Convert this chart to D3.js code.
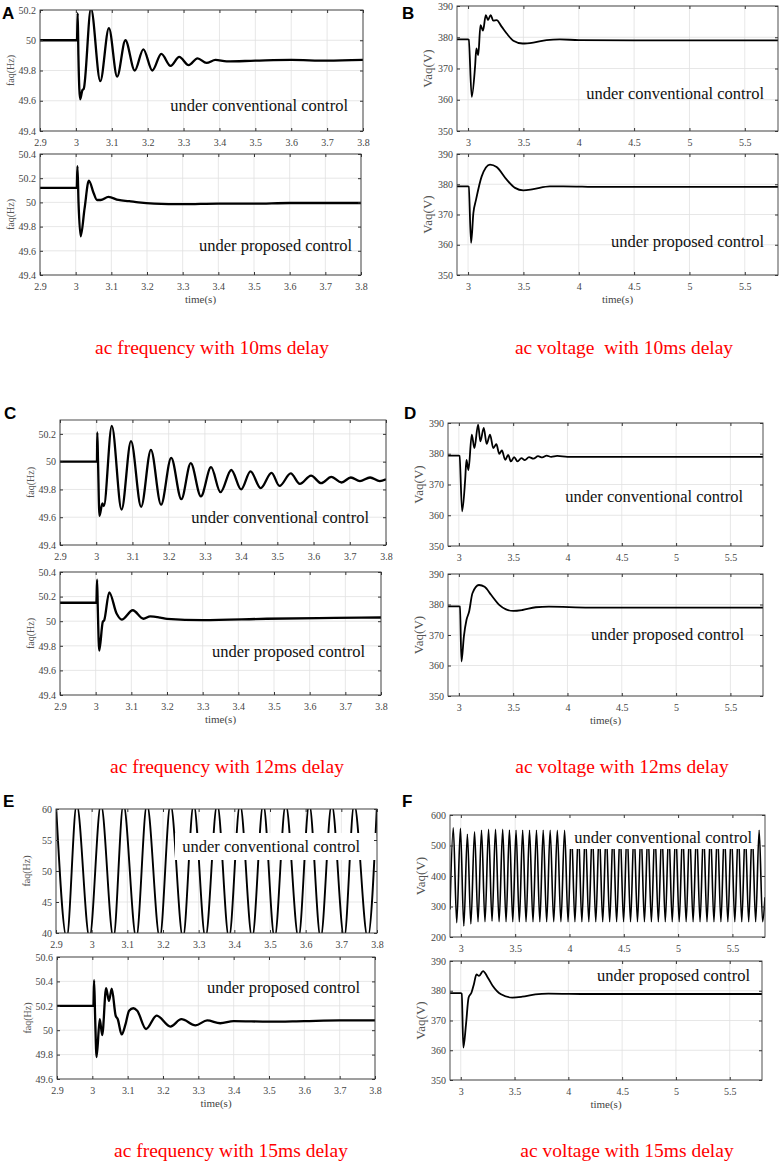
<!DOCTYPE html>
<html><head><meta charset="utf-8">
<script src="https://cdn.jsdelivr.net/npm/d3@7"></script>
<style>body{margin:0;background:#fff}</style>
</head><body>
<svg id="c" width="782" height="1164"></svg>
<script>
// ---------- tick labels ----------
const freqTimeTicks = [2.9, 3.0, 3.1, 3.2, 3.3, 3.4, 3.5, 3.6, 3.7, 3.8];
const voltTimeTicks = [3, 3.5, 4, 4.5, 5, 5.5];
const freqTicksA = [49.4, 49.6, 49.8, 50.0, 50.2];
const freqTicksB = [49.4, 49.6, 49.8, 50.0, 50.2, 50.4];
const freqTicksE1 = [40, 45, 50, 55, 60];
const freqTicksE2 = [49.6, 49.8, 50.0, 50.2, 50.4, 50.6];
const voltTicks = [350, 360, 370, 380, 390];
const voltTicksF = [200, 300, 400, 500, 600];

// ---------- series (time s, value) ----------
const freqConv10 = [[2.9,50.0],[3.0,50.0],[3.003,50.0],[3.005,50.18],[3.007,49.9],[3.012,49.61],[3.018,49.67],[3.022,49.68],[3.042,50.21],[3.068,49.73],[3.092,50.08],[3.115,49.76],[3.138,50.0],[3.164,49.80],[3.188,49.94],[3.213,49.80],[3.238,49.91],[3.264,49.83],[3.288,49.89],[3.314,49.835],[3.339,49.88],[3.364,49.85],[3.389,49.87],[3.42,49.86],[3.5,49.865],[3.6,49.87],[3.7,49.865],[3.8,49.87]];
const freqProp10 = [[2.9,50.12],[3.0,50.12],[3.003,50.12],[3.005,50.30],[3.008,50.0],[3.014,49.72],[3.025,49.95],[3.037,50.18],[3.05,50.08],[3.06,50.02],[3.07,50.02],[3.092,50.045],[3.12,50.02],[3.15,50.01],[3.176,50.0],[3.22,49.99],[3.3,49.985],[3.4,49.99],[3.5,49.99],[3.6,49.995],[3.7,49.995],[3.8,49.995]];
const voltConv10 = [[2.9,379.3],[3.0,379.3],[3.006,379.2],[3.033,360.9],[3.063,370.5],[3.075,376.4],[3.092,374.3],[3.112,383.9],[3.135,382.1],[3.16,387.1],[3.18,385.5],[3.204,387.1],[3.228,385.3],[3.258,385.5],[3.303,383.4],[3.349,381.2],[3.409,378.9],[3.493,378.0],[3.589,378.3],[3.709,379.1],[3.829,379.3],[4.0,379.1],[4.5,379.0],[5.0,379.0],[5.5,379.0],[5.8,379.0]];
const voltProp10 = [[2.9,379.3],[3.0,379.3],[3.006,379.2],[3.027,360.6],[3.048,370.5],[3.072,374.9],[3.123,382.6],[3.198,386.5],[3.258,385.7],[3.349,381.5],[3.424,378.8],[3.499,378.0],[3.589,378.4],[3.739,379.3],[3.86,379.3],[4.2,379.1],[5.8,379.1]];
const freqConv12 = [[2.9,50.0],[3.0,50.0],[3.002,50.0],[3.003,50.21],[3.005,50.0],[3.009,49.61],[3.017,49.70],[3.021,49.68],[3.043,50.257],[3.07,49.655],[3.096,50.148],[3.124,49.675],[3.151,50.085],[3.179,49.69],[3.207,50.027],[3.235,49.73],[3.261,49.99],[3.289,49.75],[3.317,49.96],[3.343,49.78],[3.373,49.94],[3.40,49.80],[3.426,49.93],[3.454,49.81],[3.484,49.92],[3.506,49.825],[3.537,49.915],[3.562,49.84],[3.593,49.90],[3.621,49.845],[3.649,49.89],[3.677,49.85],[3.703,49.886],[3.728,49.86],[3.756,49.886],[3.783,49.86],[3.8,49.874]];
const freqProp12 = [[2.9,50.15],[3.0,50.15],[3.002,50.15],[3.004,50.338],[3.006,50.1],[3.01,49.76],[3.02,49.995],[3.024,50.008],[3.038,50.235],[3.059,50.06],[3.073,50.013],[3.104,50.089],[3.134,50.02],[3.153,50.04],[3.181,50.03],[3.2,50.019],[3.3,50.008],[3.48,50.02],[3.67,50.027],[3.8,50.03]];
const voltConv12 = [[2.9,379.4],[3.0,379.4],[3.006,379.3],[3.03,361.3],[3.058,371.5],[3.07,378.0],[3.088,374.7],[3.119,386.2],[3.143,381.8],[3.177,389.5],[3.198,384],[3.229,388.4],[3.256,383.2],[3.287,386.2],[3.317,381.8],[3.345,383.1],[3.372,380],[3.396,381.1],[3.427,378.0],[3.454,379.6],[3.479,377.5],[3.509,378.9],[3.54,377.5],[3.576,378.6],[3.607,377.9],[3.646,378.9],[3.686,378.4],[3.729,379.2],[3.768,378.8],[3.808,379.4],[3.85,379.0],[3.905,379.3],[4.0,379.0],[5.8,379.0]];
const voltProp12 = [[2.9,379.4],[3.0,379.4],[3.01,379.3],[3.024,361.3],[3.046,369.5],[3.07,374.9],[3.094,377.6],[3.125,383.7],[3.185,386.4],[3.237,385.8],[3.298,383.1],[3.374,379.8],[3.434,378.4],[3.501,377.9],[3.586,378.2],[3.708,379.1],[3.829,379.3],[4.2,379.0],[5.8,379.0]];
const freqConv15 = [[2.9,60.8],[2.930,39.2],[2.958,60.8],[2.994,39.2],[3.026,60.8],[3.061,39.2],[3.089,60.8],[3.125,39.2],[3.155,60.8],[3.191,39.2],[3.221,60.8],[3.256,39.2],[3.286,60.8],[3.319,39.2],[3.352,60.8],[3.385,39.2],[3.416,60.8],[3.450,39.2],[3.481,60.8],[3.513,39.2],[3.544,60.8],[3.580,39.2],[3.610,60.8],[3.642,39.2],[3.673,60.8],[3.708,39.2],[3.736,60.8],[3.774,39.2],[3.8,60.8]];
const freqProp15 = [[2.9,50.2],[3.0,50.2],[3.003,50.2],[3.005,50.41],[3.008,50.1],[3.012,49.78],[3.021,50.09],[3.028,49.96],[3.039,50.345],[3.047,50.24],[3.055,50.34],[3.066,50.12],[3.072,50.09],[3.083,49.965],[3.094,50.05],[3.104,50.16],[3.116,50.18],[3.127,50.16],[3.152,50.01],[3.182,50.12],[3.221,50.03],[3.252,50.09],[3.292,50.04],[3.325,50.08],[3.362,50.057],[3.4,50.074],[3.5,50.07],[3.6,50.075],[3.7,50.08],[3.8,50.08]];
const voltConv15 = [[2.9,290],[2.93,558],[2.962,247],[2.996,556],[3.027,236],[3.06,537],[3.092,243],[3.126,545],[3.158,250],[3.19,550],[3.222,250],[3.255,553],[3.287,252],[3.319,553],[3.352,250],[3.385,553],[3.416,250],[3.447,551],[3.478,250],[3.508,550],[3.538,250],[3.569,550],[3.6,250],[3.632,550],[3.664,250],[3.696,550],[3.727,250],[3.758,550],[3.79,250],[3.822,550],[3.855,250],[3.888,550],[3.921,250],[3.955,550],[3.987,250],[4.018,550],[4.05,250],[4.082,550],[4.114,250],[4.146,550],[4.178,250],[4.21,550],[4.242,250],[4.274,550],[4.306,250],[4.338,550],[4.37,250],[4.402,550],[4.434,250],[4.466,550],[4.498,250],[4.53,550],[4.562,250],[4.594,550],[4.626,250],[4.658,550],[4.69,250],[4.722,550],[4.754,250],[4.786,550],[4.818,250],[4.85,550],[4.882,250],[4.914,550],[4.946,250],[4.978,550],[5.01,250],[5.042,550],[5.074,250],[5.106,550],[5.138,250],[5.17,550],[5.202,250],[5.234,550],[5.266,250],[5.298,550],[5.33,250],[5.362,550],[5.394,250],[5.426,550],[5.458,250],[5.49,550],[5.522,250],[5.554,550],[5.586,250],[5.618,550],[5.65,250],[5.682,550],[5.714,250],[5.746,550],[5.778,250],[5.8,330]];
const voltProp15 = [[2.9,379.2],[3.0,379.2],[3.009,379.0],[3.024,360.9],[3.049,368.8],[3.073,377.7],[3.1,379.4],[3.122,382.2],[3.146,385.5],[3.17,385],[3.207,386.6],[3.252,384.4],[3.298,381.6],[3.374,378.8],[3.48,377.7],[3.571,378.0],[3.693,378.8],[3.814,379.05],[4.2,378.9],[5.8,378.9]];

// ---------- texts ----------
const conv = 'under conventional control';
const prop = 'under proposed control';
const freqLabel = 'faq(Hz)';
const voltLabel = 'Vaq(V)';
const captions = ['ac frequency with 10ms delay','ac voltage  with 10ms delay','ac frequency with 12ms delay','ac voltage with 12ms delay','ac frequency with 15ms delay','ac voltage with 15ms delay'];
const letters = ['A','B','C','D','E','F'];

// ---------- layout ----------
const FD = [2.9, 3.8], VD = [2.9, 5.8];
const panels = [
 {x0:40,x1:363,y0:10,y1:131, xd:FD,xt:freqTimeTicks, yd:[49.4,50.2],yt:freqTicksA, yl:freqLabel, data:freqConv10, txt:conv, tx:348, ty:111, time:false, sw:2.3, f:true},
 {x0:40,x1:361,y0:154,y1:275, xd:FD,xt:freqTimeTicks, yd:[49.4,50.4],yt:freqTicksB, yl:freqLabel, data:freqProp10, txt:prop, tx:352, ty:251, time:true, sw:2.3, f:true},
 {x0:457,x1:778,y0:6,y1:131, xd:VD,xt:voltTimeTicks, yd:[350,390],yt:voltTicks, yl:voltLabel, data:voltConv10, txt:conv, tx:764, ty:99, time:false, sw:1.8},
 {x0:457,x1:778,y0:154,y1:275, xd:VD,xt:voltTimeTicks, yd:[350,390],yt:voltTicks, yl:voltLabel, data:voltProp10, txt:prop, tx:764, ty:247, time:true, sw:1.8},
 {x0:60,x1:386,y0:420,y1:545, xd:FD,xt:freqTimeTicks, yd:[49.4,50.3],yt:freqTicksA, yl:freqLabel, data:freqConv12, txt:conv, tx:369, ty:523, time:false, sw:2.3, f:true},
 {x0:60,x1:381,y0:572,y1:695, xd:FD,xt:freqTimeTicks, yd:[49.4,50.4],yt:freqTicksB, yl:freqLabel, data:freqProp12, txt:prop, tx:365, ty:657, time:true, sw:2.3, f:true},
 {x0:448,x1:763,y0:423,y1:546, xd:VD,xt:voltTimeTicks, yd:[350,390],yt:voltTicks, yl:voltLabel, data:voltConv12, txt:conv, tx:743, ty:502, time:false, sw:1.8},
 {x0:448,x1:763,y0:574,y1:696, xd:VD,xt:voltTimeTicks, yd:[350,390],yt:voltTicks, yl:voltLabel, data:voltProp12, txt:prop, tx:744, ty:640, time:true, sw:1.8},
 {x0:56,x1:377,y0:809,y1:933, xd:FD,xt:freqTimeTicks, yd:[40,60],yt:freqTicksE1, yl:freqLabel, data:freqConv15, txt:conv, tx:360, ty:852, time:false, sw:1.9, f:true, box:[175,833,376.5,860]},
 {x0:57,x1:375,y0:957,y1:1079, xd:FD,xt:freqTimeTicks, yd:[49.6,50.6],yt:freqTicksE2, yl:freqLabel, data:freqProp15, txt:prop, tx:360, ty:993, time:true, sw:2.3, f:true},
 {x0:450,x1:765,y0:815,y1:937, xd:VD,xt:voltTimeTicks, yd:[200,600],yt:voltTicksF, yl:voltLabel, data:voltConv15, txt:conv, tx:752, ty:843, time:false, sw:1.6, box:[568,815.5,756,849]},
 {x0:450,x1:762,y0:961,y1:1080, xd:VD,xt:voltTimeTicks, yd:[350,390],yt:voltTicks, yl:voltLabel, data:voltProp15, txt:prop, tx:750, ty:981, time:true, sw:1.8}
];
const captionPos = [[212,354],[624,354],[227,773],[622,773],[231,1157],[627,1157]];
const letterPos = [[2,19],[402,19],[4,419],[404,419],[3,807],[402,807]];

const svg = d3.select('#c');
const SERIF = "'Liberation Serif','Times New Roman',serif";
const tickFmt = d => String(+d.toFixed(2));

panels.forEach((p, i) => {
  const x = d3.scaleLinear().domain(p.xd).range([p.x0, p.x1]);
  const y = d3.scaleLinear().domain(p.yd).range([p.y1, p.y0]);
  const g = svg.append('g');
  g.selectAll('line.gx').data(p.xt).join('line').attr('class','gx')
    .attr('x1', d => x(d)).attr('x2', d => x(d)).attr('y1', p.y0).attr('y2', p.y1)
    .attr('stroke', '#e1e1e1').attr('stroke-width', 0.8);
  g.selectAll('line.gy').data(p.yt).join('line').attr('class','gy')
    .attr('y1', d => y(d)).attr('y2', d => y(d)).attr('x1', p.x0).attr('x2', p.x1)
    .attr('stroke', '#e1e1e1').attr('stroke-width', 0.8);
  const cid = 'clip' + i;
  svg.append('clipPath').attr('id', cid).append('rect')
    .attr('x', p.x0).attr('y', p.y0).attr('width', p.x1 - p.x0).attr('height', p.y1 - p.y0);
  const line = d3.line().x(d => x(d[0])).y(d => y(d[1])).curve(d3.curveMonotoneX);
  g.append('path').datum(p.data).attr('d', line).attr('fill', 'none')
    .attr('stroke', '#000').attr('stroke-width', p.sw).attr('stroke-linejoin', 'round')
    .attr('clip-path', `url(#${cid})`);
  if (p.box) {
    g.append('rect').attr('x', p.box[0]).attr('y', p.box[1])
      .attr('width', p.box[2] - p.box[0]).attr('height', p.box[3] - p.box[1]).attr('fill', '#fff');
  }
  const styleAxis = (ax) => {
    ax.select('.domain').remove();
    ax.attr('color', '#333');
    ax.selectAll('text').attr('font-family', SERIF).attr('font-size', 10).attr('fill', '#444');
  };
  const bx = g.append('g').attr('transform', `translate(0,${p.y1})`)
    .call(d3.axisBottom(x).tickValues(p.xt).tickFormat(tickFmt).tickSize(-3).tickPadding(7.5));
  styleAxis(bx);
  const tx = g.append('g').attr('transform', `translate(0,${p.y0})`)
    .call(d3.axisTop(x).tickValues(p.xt).tickFormat('').tickSize(-3));
  styleAxis(tx);
  const ly = g.append('g').attr('transform', `translate(${p.x0},0)`)
    .call(d3.axisLeft(y).tickValues(p.yt).tickFormat(tickFmt).tickSize(-3).tickPadding(4));
  styleAxis(ly);
  const ry = g.append('g').attr('transform', `translate(${p.x1},0)`)
    .call(d3.axisRight(y).tickValues(p.yt).tickFormat('').tickSize(-3));
  styleAxis(ry);
  g.append('rect').attr('x', p.x0).attr('y', p.y0).attr('width', p.x1 - p.x0).attr('height', p.y1 - p.y0)
    .attr('fill', 'none').attr('stroke', '#3a3a3a').attr('stroke-width', 0.9);
  g.append('text').attr('transform', `translate(${p.x0 - 30},${(p.y0 + p.y1) / 2}) rotate(-90)`)
    .attr('text-anchor', 'middle').attr('dy', '0.35em')
    .attr('font-family', SERIF).attr('font-size', p.f ? 10 : 13).attr('fill', '#555').text(p.yl);
  g.append('text').attr('x', p.tx).attr('y', p.ty).attr('text-anchor', 'end')
    .attr('font-family', SERIF).attr('font-size', 16.5).attr('fill', '#111').text(p.txt);
  if (p.time) {
    g.append('text').attr('x', (p.x0 + p.x1) / 2).attr('y', p.y1 + 28).attr('text-anchor', 'middle')
      .attr('font-family', SERIF).attr('font-size', 11).attr('fill', '#444').text('time(s)');
  }
});

svg.selectAll('text.cap').data(captions).join('text').attr('class', 'cap')
  .attr('x', (d, i) => captionPos[i][0]).attr('y', (d, i) => captionPos[i][1])
  .attr('text-anchor', 'middle').attr('font-family', SERIF).attr('font-size', 19.5)
  .attr('fill', '#ff0000').attr('xml:space', 'preserve').style('white-space', 'pre').text(d => d);

svg.selectAll('text.let').data(letters).join('text').attr('class', 'let')
  .attr('x', (d, i) => letterPos[i][0]).attr('y', (d, i) => letterPos[i][1])
  .attr('font-family', "'Liberation Sans',Arial,sans-serif").attr('font-weight', 'bold')
  .attr('font-size', 17).attr('fill', '#000').text(d => d);
</script>
</body></html>
